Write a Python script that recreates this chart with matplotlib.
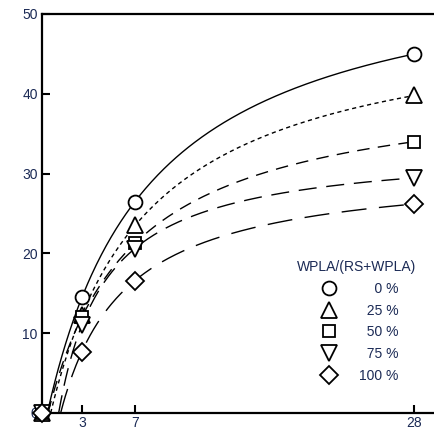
import matplotlib
matplotlib.use('Agg')
import matplotlib.pyplot as plt
from matplotlib.lines import Line2D
import numpy as np

plt.rcParams['font.family'] = ['Liberation Sans', 'DejaVu Sans']

days = [0, 3, 7, 28]
labels = ['0 %', '25 %', '50 %', '75 %', '100 %']
legend_labels = ['\u2007\u20070 %', '\u200725 %', '\u200750 %', '\u200775 %', '100 %']
values = [
    [0, 14.5, 26.5, 45.0],
    [0, 12.3, 23.5, 39.8],
    [0, 12.0, 21.3, 34.0],
    [0, 11.0, 20.6, 29.5],
    [0, 7.7, 16.6, 26.2],
]
markers = ['o', '^', 's', 'v', 'D']
msizes = [10, 11, 9, 11, 9]
dashes = [None, (3, 2.5), (9, 6), (13, 7), (18, 9)]

txt_color = '#1b2a55'


def fit_hyperbola(t, y):
    # y = a*(t-t0)/(b+t-t0), least squares over a grid of t0 and b
    best = None
    for t0 in np.linspace(0.4, 1.5, 23):
        for b in np.linspace(0.5, 30, 600):
            g = (t - t0) / (b + t - t0)
            a = np.dot(g, y) / np.dot(g, g)
            err = np.sum((a * g - y) ** 2)
            if best is None or err < best[0]:
                best = (err, a, b, t0)
    return best[1:]


fig = plt.figure(figsize=(4.35, 4.32), dpi=100)
ax = fig.add_axes([0.0966, 0.044, 0.9034, 0.9236])

for i in range(len(values)):
    t = np.array(days[1:], dtype=float)
    y = np.array(values[i][1:], dtype=float)
    a, b, t0 = fit_hyperbola(t, y)
    xs = np.linspace(t0, 28, 300)
    ys = a * (xs - t0) / (b + xs - t0)
    if dashes[i] is None:
        ax.plot(xs, ys, color='black', lw=1.0)
    else:
        ax.plot(xs, ys, color='black', lw=1.0, dashes=dashes[i])
    ax.plot(days, values[i], linestyle='none', marker=markers[i], ms=msizes[i],
            mfc='white', mec='black', mew=1.3, clip_on=False, zorder=5)

ax.set_xlim(0, 29.55)
ax.set_ylim(0, 50)
ax.set_xticks([3, 7, 28])
ax.set_yticks([0, 10, 20, 30, 40, 50])
ax.tick_params(direction='in', length=6, width=1.5, labelsize=10, labelcolor=txt_color, pad=3)
ax.tick_params(axis='x', pad=2)
for s in ['left', 'bottom', 'top']:
    ax.spines[s].set_linewidth(1.6)
ax.spines['right'].set_visible(False)

handles = [Line2D([], [], linestyle='none', marker=markers[i], ms=msizes[i],
                  mfc='white', mec='black', mew=1.3) for i in range(len(labels))]
leg = ax.legend(handles, legend_labels, title='WPLA/(RS+WPLA)', loc='lower right',
                bbox_to_anchor=(0.985, 0.045), frameon=False, fontsize=10,
                title_fontsize=10, handletextpad=1.2, labelspacing=0.55,
                labelcolor=txt_color)
leg.get_title().set_color(txt_color)

fig.savefig('out.png', dpi=100)
